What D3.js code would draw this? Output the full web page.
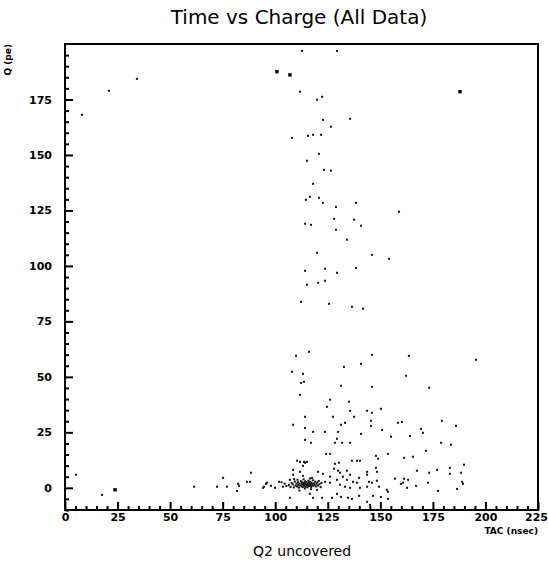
<!DOCTYPE html>
<html>
<head>
<meta charset="utf-8">
<script src="https://cdn.jsdelivr.net/npm/d3@7"></script>
<style>
  body { margin: 0; background: #fff; }
  svg { display: block; }
  .tick text { font-family: "DejaVu Sans", sans-serif; font-weight: bold; font-size: 11px; fill: #000; }
</style>
</head>
<body>
<svg id="chart" width="548" height="562"></svg>
<script>
// Axis ticks
const xTicks = [0, 25, 50, 75, 100, 125, 150, 175, 200, 225]
const yTicks = [0, 25, 50, 75, 100, 125, 150, 175]

// Scatter events [TAC (nsec), Q (pe)]
const upperEvents = [
	[112.7, 196.9], [129.4, 196.9], [34.2, 184.3], [20.9, 178.9], [111.8, 178.5],
	[119.9, 174.9], [122.3, 176.2], [8.1, 168.1], [122.7, 165.8], [135.6, 166.3],
	[126.5, 162.7], [108.0, 157.7], [115.6, 158.6], [118.0, 159.1], [121.8, 159.1],
	[120.8, 150.5], [115.1, 147.4], [123.2, 143.3], [126.5, 142.9], [118.0, 137.0],
	[116.5, 131.1], [114.6, 129.8], [120.8, 130.7], [122.7, 128.4], [138.4, 128.4],
	[128.9, 126.6], [158.9, 124.4], [128.0, 121.2], [137.5, 120.8], [140.8, 118.1],
	[114.2, 119.0], [117.0, 118.5], [128.9, 116.3], [134.1, 111.8], [119.9, 105.9],
	[146.0, 105.0], [154.1, 103.2], [114.2, 97.8], [123.7, 98.7], [129.4, 96.9],
	[138.4, 99.1], [115.1, 91.5], [120.4, 92.4], [123.7, 93.3], [112.3, 83.8],
	[125.6, 82.9], [136.5, 81.6], [141.8, 80.7]
]

const middleEvents = [
	[109.9, 59.5], [116.1, 61.3], [146.0, 59.9], [163.6, 59.5], [195.5, 57.7],
	[140.8, 55.9], [132.7, 54.5], [108.0, 52.3], [113.2, 51.4], [162.2, 50.5],
	[112.3, 47.3], [113.7, 47.8], [131.3, 46.0], [146.0, 45.5], [173.2, 45.1],
	[111.8, 41.9], [126.1, 39.7], [135.1, 38.8], [124.6, 36.5], [150.3, 35.6],
	[114.2, 32.0], [127.5, 32.0], [135.6, 34.7], [137.5, 32.0], [143.7, 34.7],
	[146.0, 33.8], [108.5, 28.4], [114.2, 27.0], [118.0, 25.2], [123.7, 25.2],
	[129.9, 25.2], [131.3, 28.4], [133.2, 29.3], [140.8, 24.3], [145.6, 30.2],
	[145.6, 27.9], [150.8, 26.1], [155.1, 23.0], [158.4, 29.3], [160.3, 29.7],
	[164.1, 23.4], [169.3, 26.6], [170.3, 24.8], [179.3, 30.2], [186.0, 27.9],
	[114.2, 21.6], [117.0, 20.3], [128.4, 20.3], [131.8, 20.3], [135.6, 20.3],
	[129.4, 22.1], [178.9, 20.3], [183.6, 19.4], [124.2, 15.3], [126.1, 15.3],
	[147.9, 14.4], [148.9, 13.1], [153.6, 15.3], [171.7, 16.7], [165.5, 14.0],
	[161.3, 13.5]
]

const lowerEvents = [
	[138.9, 12.2], [140.3, 12.2], [110.4, 12.2], [114.2, 11.3], [113.2, 9.9],
	[130.3, 11.3], [128.4, 10.8], [147.9, 9.0], [183.1, 9.0], [183.1, 6.3],
	[188.4, 6.8], [189.8, 10.4], [167.4, 7.7], [173.2, 6.8], [177.0, 8.1],
	[108.5, 8.1], [111.8, 7.2], [113.2, 5.4], [120.4, 7.2], [122.7, 6.3],
	[129.9, 7.7], [134.1, 7.7], [132.2, 5.0], [143.7, 7.2], [134.1, 3.6],
	[137.0, 2.7], [157.0, 4.1], [161.3, 4.1], [163.2, 3.6], [159.8, 1.8],
	[160.8, 2.3], [172.7, 2.3], [188.9, 2.7], [189.3, 1.8], [148.4, 3.2],
	[149.4, 0.5], [144.6, 2.7], [167.0, 0.9], [162.7, 0.0], [186.5, -0.5],
	[177.4, -1.4], [153.6, -1.8], [153.1, -0.9], [146.5, -3.6], [150.3, -4.1],
	[153.6, -5.0], [116.5, -2.7], [118.0, -4.5], [122.3, -4.5], [129.4, -2.7],
	[134.6, -4.5], [139.9, -3.6], [143.7, -6.3], [145.1, -7.7], [107.0, -4.5],
	[127.0, -4.5], [131.3, -4.1], [136.5, -5.0], [113.7, 11.7], [136.5, 12.2],
	[117.5, 4.5], [126.1, 5.0], [128.0, 8.6], [130.8, 6.8], [135.6, 5.9],
	[139.9, 4.5], [143.7, 5.9], [148.4, 7.2], [123.7, 2.7], [126.1, 2.3],
	[129.4, 3.6], [130.8, 1.4], [133.2, 0.5], [135.6, 0.0], [138.9, 2.3],
	[140.3, 0.0], [143.7, 0.5], [146.0, 2.3], [5.2, 5.9], [17.6, -3.2],
	[61.4, 0.5], [72.3, 0.5], [77.1, 0.5], [75.2, 4.5], [82.3, 1.8],
	[82.8, 0.9], [81.8, -1.4], [86.6, 2.7], [88.0, 2.7], [88.5, 6.8],
	[94.2, 0.0], [94.7, 0.5], [95.6, 1.8], [96.1, 2.3], [98.0, 0.9],
	[99.9, 0.0], [101.8, 2.7], [103.7, 0.5], [107.0, 3.6], [108.5, 5.9],
	[111.8, 11.7], [115.1, 11.7]
]

// Dense core of the prompt peak
const coreEvents = [
	[106.5, 1.2], [107.3, 0.4], [107.8, 2.1], [108.4, 1.5], [108.9, 0.2], [109.3, 2.8],
	[109.7, 1.0], [110.1, 1.9], [110.4, 0.6], [110.8, 2.5], [111.0, 1.3], [111.3, 0.1],
	[111.6, 2.0], [111.9, 1.1], [112.2, 3.0], [112.4, 0.7], [112.7, 1.7], [112.9, 2.4],
	[113.1, 0.3], [113.3, 1.4], [113.6, 2.2], [113.8, 0.9], [114.0, 1.8], [114.2, 2.9],
	[114.4, 0.5], [114.6, 1.5], [114.8, 2.6], [115.0, 1.0], [115.2, 2.0], [115.4, 0.2],
	[115.6, 1.4], [115.8, 3.2], [116.0, 2.3], [116.2, 0.8], [116.4, 1.7], [116.7, 2.7],
	[116.9, 1.2], [117.1, 0.4], [117.3, 2.1], [117.6, 1.5], [117.9, 3.4], [118.1, 0.9],
	[118.4, 2.0], [118.7, 1.3], [119.0, 2.8], [119.3, 0.6], [119.6, 1.8], [120.0, 2.4],
	[120.3, 1.0], [120.7, 3.1], [121.1, 1.6], [121.6, 0.3], [122.0, 2.2], [104.5, 1.9],
	[105.3, 0.8], [103.0, 2.5], [110.6, 3.6], [113.5, 3.8], [117.0, -0.6], [114.1, -0.3],
	[119.8, -0.9], [111.5, -1.2], [109.0, 3.9], [116.5, 4.2]
]

// Heavier marks (coincident events)
const heavyEvents = [
	[100.8, 187.5], [107.0, 186.1], [187.9, 178.5], [23.8, -0.9]
]

const margin = { top: 44, right: 10, bottom: 52, left: 65 }
const plotW = 538 - margin.left
const plotH = 510 - margin.top

const svg = d3.select("#chart")
const g = svg.append("g")
	.attr("transform", `translate(${margin.left}, ${margin.top})`)

const x = d3.scaleLinear().domain([0, 225]).range([0, plotW])
const y = d3.scaleLinear().domain([-10, 200]).range([plotH, 0])

// Title and labels
svg.append("text")
	.attr("x", 299)
	.attr("y", 24)
	.attr("text-anchor", "middle")
	.style("font-family", "'DejaVu Sans', sans-serif")
	.style("font-size", "20px")
	.text("Time vs Charge (All Data)")

svg.append("text")
	.attr("x", 302)
	.attr("y", 556)
	.attr("text-anchor", "middle")
	.style("font-family", "'DejaVu Sans', sans-serif")
	.style("font-size", "14px")
	.text("Q2 uncovered")

svg.append("text")
	.attr("x", 538)
	.attr("y", 534)
	.attr("text-anchor", "end")
	.style("font-family", "'DejaVu Sans', sans-serif")
	.style("font-weight", "bold")
	.style("font-size", "9px")
	.text("TAC (nsec)")

svg.append("text")
	.attr("transform", "translate(11, 44) rotate(-90)")
	.attr("text-anchor", "end")
	.style("font-family", "'DejaVu Sans', sans-serif")
	.style("font-weight", "bold")
	.style("font-size", "9px")
	.text("Q (pe)")

// Minor ticks every 5 units, pointing inward
const xMinor = d3.range(0, 226, 5).filter(v => v % 25 !== 0)
const yMinor = d3.range(-10, 201, 5).filter(v => v % 25 !== 0)

g.append("g")
	.attr("transform", `translate(0, ${plotH})`)
	.call(d3.axisBottom(x).tickValues(xMinor).tickSize(-4).tickSizeOuter(0).tickFormat(""))
	.call(a => a.select(".domain").remove())

g.append("g")
	.call(d3.axisLeft(y).tickValues(yMinor).tickSize(-4).tickSizeOuter(0).tickFormat(""))
	.call(a => a.select(".domain").remove())

g.append("g")
	.attr("transform", `translate(0, ${plotH})`)
	.call(d3.axisBottom(x).tickValues(xTicks).tickSize(-8).tickSizeOuter(0).tickPadding(3))
	.call(a => a.select(".domain").remove())
	.call(a => a.selectAll(".tick:last-of-type text").attr("dx", "-2"))

g.append("g")
	.call(d3.axisLeft(y).tickValues(yTicks).tickSize(-8).tickSizeOuter(0).tickPadding(13))
	.call(a => a.select(".domain").remove())

g.selectAll(".tick line")
	.attr("stroke", "#000")
	.attr("stroke-width", 2)

// Frame
g.append("rect")
	.attr("x", 0)
	.attr("y", 0)
	.attr("width", plotW)
	.attr("height", plotH)
	.attr("fill", "none")
	.attr("stroke", "#000")
	.attr("stroke-width", 2)

// Points
const events = [...upperEvents, ...middleEvents, ...lowerEvents, ...coreEvents]
g.append("g")
	.selectAll("rect")
	.data(events)
	.join("rect")
	.attr("x", d => x(d[0]) - 1)
	.attr("y", d => y(d[1]) - 1)
	.attr("width", 2)
	.attr("height", 2)
	.attr("fill", "#111")

g.append("g")
	.selectAll("rect")
	.data(heavyEvents)
	.join("rect")
	.attr("x", d => x(d[0]) - 1.7)
	.attr("y", d => y(d[1]) - 1.7)
	.attr("width", 3.4)
	.attr("height", 3.4)
	.attr("fill", "#000")
</script>
</body>
</html>
